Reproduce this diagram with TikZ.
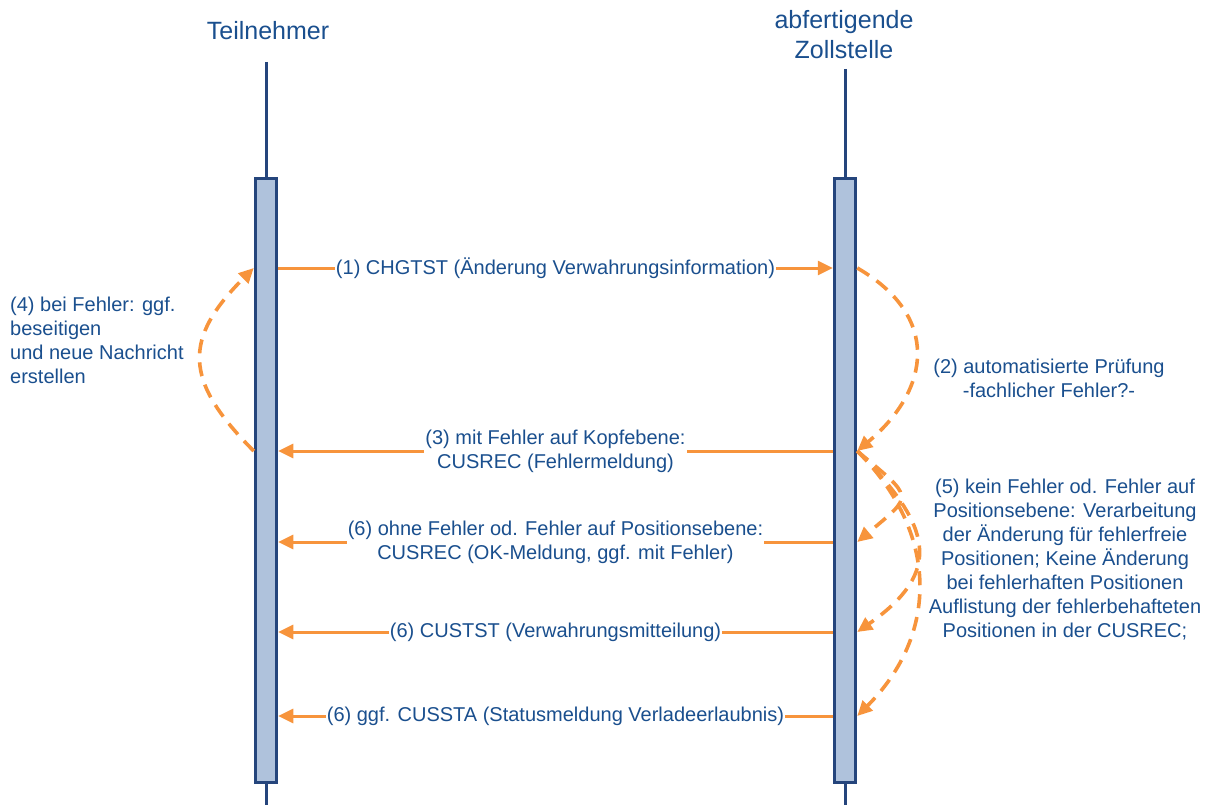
\documentclass[tikz,border=0pt]{standalone}
\usepackage{fontspec}
\setmainfont{Liberation Sans}
\usepackage{tikz}
\usetikzlibrary{arrows.meta}
\definecolor{ink}{HTML}{1A4F8E}
\definecolor{navy}{HTML}{25457C}
\definecolor{barL}{HTML}{AFC2DC}
\definecolor{orng}{HTML}{F7943C}
\tikzset{
  head/.style  ={font=\fontsize{25}{30}\selectfont, text=ink, align=center, inner sep=0pt},
  life/.style  ={draw=navy, line width=3pt},
  actbar/.style={draw=navy, fill=barL, line width=3pt, minimum width=21.5pt,
                 minimum height=604pt, inner sep=0pt},
  lbl/.style   ={font=\fontsize{20}{24}\selectfont, text=ink, align=center, inner sep=0pt},
  onln/.style  ={lbl, fill=white, inner sep=1pt},
  msg/.style   ={-{Triangle[length=15pt,width=14pt]}, draw=orng, line width=3pt},
  back/.style  ={msg, line width=3.6pt, dash pattern=on 14pt off 9pt},
}

\begin{document}
\begin{tikzpicture}[x=1pt,y=1pt]
  \useasboundingbox (0,0) rectangle (1205,-805);
  % participants
  \node[head](tn) at (268,-31){Teilnehmer};
  \node[head](zs) at (844,-35){abfertigende\\Zollstelle};
  \coordinate (tnTop) at (266,-62);  \coordinate (tnEnd) at (266,-805);
  \coordinate (zsTop) at (845,-69);  \coordinate (zsEnd) at (845,-805);
  \draw[life](tnTop)--(tnEnd);
  \draw[life](zsTop)--(zsEnd);
  \node[actbar](barT) at (266,-480.5){};
  \node[actbar](barZ) at (845,-480.5){};
  % message heights
  \coordinate (m1) at (0,-268);
  \coordinate (m3) at (0,-451);
  \coordinate (m6a) at (0,-542);
  \coordinate (m6b) at (0,-632);
  \coordinate (m6c) at (0,-716);
  % messages
  \draw[msg](barT.east |- m1)--node[onln]{(1) CHGTST (Änderung Verwahrungsinformation)}(barZ.west |- m1);
  \draw[msg](barZ.west |- m3)--node[onln]{(3) mit Fehler auf Kopfebene:\\CUSREC (Fehlermeldung)}(barT.east |- m3);
  \draw[msg](barZ.west |- m6a)--node[onln]{(6) ohne Fehler od. Fehler auf Positionsebene:\\CUSREC (OK-Meldung, ggf. mit Fehler)}(barT.east |- m6a);
  \draw[msg](barZ.west |- m6b)--node[onln]{(6) CUSTST (Verwahrungsmitteilung)}(barT.east |- m6b);
  \draw[msg](barZ.west |- m6c)--node[onln]{(6) ggf. CUSSTA (Statusmeldung Verladeerlaubnis)}(barT.east |- m6c);
  % loops
  \draw[back](barT.west |- m3) to[out=135,in=225,looseness=1.4](barT.west |- m1);
  \draw[back](barZ.east |- m1) to[out=-30,in=40,looseness=1.35](barZ.east |- m3);
  \draw[back](barZ.east |- m3) to[out=-40,in=40,looseness=2.1](barZ.east |- m6a);
  \draw[back](barZ.east |- m3) to[out=-45,in=35,looseness=1.5](barZ.east |- m6b);
  \draw[back](barZ.east |- m3) to[out=-45,in=45,looseness=1.12](barZ.east |- m6c);
  % notes
  \node[lbl, align=left, anchor=west](n4) at (10,-340){(4) bei Fehler: ggf.\\beseitigen\\und neue Nachricht\\erstellen};
  \node[lbl](n2) at (1049,-378){(2) automatisierte Prüfung\\-fachlicher Fehler?-};
  \node[lbl](n5) at (1065,-560){(5) kein Fehler od. Fehler auf\\Positionsebene: Verarbeitung\\der Änderung für fehlerfreie\\Positionen; Keine Änderung\\bei fehlerhaften Positionen\\Auflistung der fehlerbehafteten\\Positionen in der CUSREC;};
\end{tikzpicture}
\end{document}
